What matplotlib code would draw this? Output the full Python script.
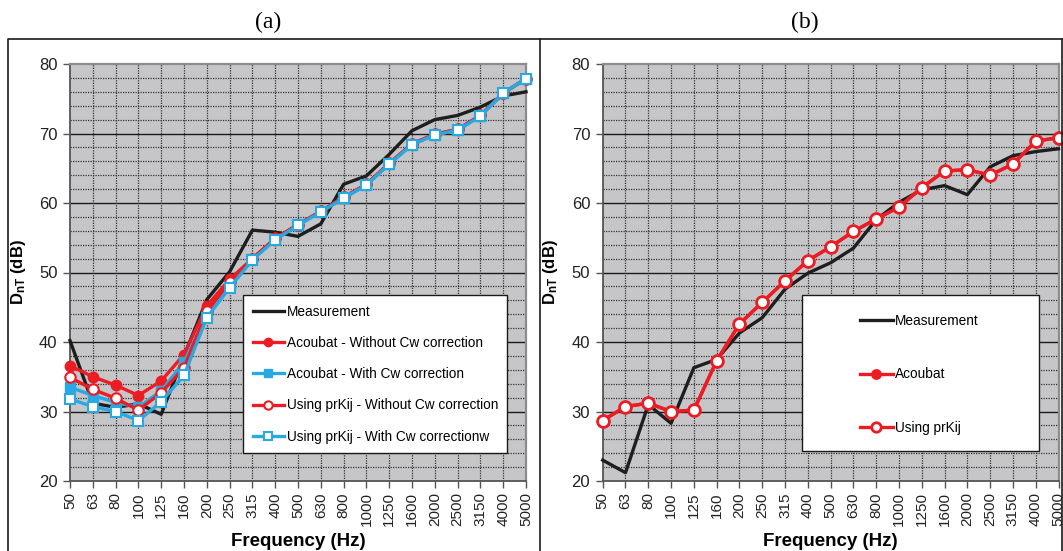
import matplotlib
matplotlib.use("Agg")
import matplotlib.pyplot as plt
from matplotlib.patches import Rectangle
from matplotlib.lines import Line2D
import numpy as np

plt.rcParams["font.family"] = ["Liberation Sans", "DejaVu Sans"]
plt.rcParams["mathtext.fontset"] = "custom"
plt.rcParams["mathtext.rm"] = "Liberation Sans"
plt.rcParams["mathtext.bf"] = "Liberation Sans:bold"

freqs = ["50", "63", "80", "100", "125", "160", "200", "250", "315", "400", "500",
         "630", "800", "1000", "1250", "1600", "2000", "2500", "3150", "4000", "5000"]

# panel (a)
meas_a = [40.2, 31.2, 30.6, 31.1, 29.6, 38.0, 46.1, 50.1, 56.1, 55.8, 55.2,
          57.0, 62.7, 63.9, 67.0, 70.4, 72.0, 72.6, 73.8, 75.4, 76.0]
acou_without_a = [36.6, 35.0, 33.8, 32.3, 34.4, 38.2, 45.2, 49.0, 52.0, 54.9, 56.9,
                  58.8, 60.8, 62.7, 65.7, 68.5, 69.9, 70.6, 72.6, 75.8, 77.9]
acou_with_a = [33.5, 32.3, 31.3, 30.6, 33.0, 37.1, 44.0, 48.2, 51.9, 54.8, 56.8,
               58.8, 60.7, 62.6, 65.6, 68.4, 69.8, 70.5, 72.5, 75.8, 77.9]
prkij_without_a = [34.9, 33.2, 31.9, 30.2, 32.7, 36.3, 44.4, 48.6, 52.0, 54.9, 56.9,
                   58.8, 60.8, 62.7, 65.7, 68.5, 69.9, 70.6, 72.6, 75.8, 77.9]
prkij_with_a = [31.8, 30.7, 30.0, 28.7, 31.4, 35.2, 43.5, 47.8, 51.8, 54.7, 56.8,
                58.7, 60.7, 62.6, 65.6, 68.4, 69.8, 70.5, 72.5, 75.8, 77.9]

# panel (b)
meas_b = [23.0, 21.2, 31.0, 28.3, 36.3, 37.5, 41.3, 43.5, 47.6, 49.9, 51.4,
          53.5, 57.6, 60.1, 61.9, 62.5, 61.2, 65.2, 66.8, 67.4, 67.8]
acou_b = [28.7, 30.7, 31.2, 30.0, 30.2, 37.3, 42.6, 45.7, 48.8, 51.7, 53.7,
          55.9, 57.7, 59.4, 62.2, 64.6, 64.8, 64.0, 65.6, 68.9, 69.4]
prkij_b = [28.7, 30.7, 31.2, 30.0, 30.2, 37.3, 42.6, 45.7, 48.8, 51.7, 53.7,
           55.9, 57.7, 59.4, 62.2, 64.6, 64.8, 64.0, 65.6, 68.9, 69.4]

RED = "#ec1c24"
BLUE = "#29a9e1"
BLACK = "#1e1e1e"
W, H = 1063, 551

fig = plt.figure(figsize=(W / 100, H / 100), dpi=100)


def px_axes(x0, x1, y0, y1):
    return fig.add_axes([x0 / W, 1 - y1 / H, (x1 - x0) / W, (y1 - y0) / H])


def style_axes(ax):
    x = np.arange(len(freqs))
    ax.set_facecolor("#c6c6c8")
    ax.set_xlim(0, len(freqs) - 1)
    ax.set_ylim(20, 80)
    ax.set_yticks(np.arange(20, 81, 10))
    ax.set_yticks(np.arange(20, 81, 2), minor=True)
    ax.set_xticks(x)
    ax.set_xticklabels(freqs, rotation=90, fontsize=11, color="#222222")
    ax.tick_params(axis="y", which="major", labelsize=12, length=5, width=1, colors="#555555",
                   labelcolor="#222222", pad=4)
    ax.tick_params(axis="y", which="minor", length=0)
    ax.tick_params(axis="x", length=5, width=1, colors="#555555", labelcolor="#222222", pad=3)
    for v in np.arange(22, 80, 2):
        if v % 10 == 0:
            ax.axhline(v, color="#1a1a1a", lw=1.0, zorder=1)
        else:
            ax.axhline(v, color="#333333", lw=0.9, ls=(0, (1, 1)), zorder=1)
    for i in x[1:-1]:
        ax.axvline(i, color="#333333", lw=0.9, ls=(0, (1, 1)), zorder=1)
    for s in ["left", "bottom"]:
        ax.spines[s].set_color("#555555")
        ax.spines[s].set_linewidth(1.3)
    for s in ["top", "right"]:
        ax.spines[s].set_color("#8c8c8c")
        ax.spines[s].set_linewidth(1.6)
    ax.set_xlabel("Frequency (Hz)", fontsize=13.5, fontweight="bold", labelpad=5)
    ax.set_ylabel(r"$\mathbf{D_{nT}}$ (dB)", fontsize=12, fontweight="bold", labelpad=8)
    return x


# ---- panel (a) ----
ax1 = px_axes(70, 526, 64, 481)
x = style_axes(ax1)
lk = dict(lw=2.4, clip_on=False, zorder=3)
ax1.plot(x, meas_a, color=BLACK, label="Measurement", **lk)
ax1.plot(x, acou_without_a, color=RED, marker="o", ms=7.5, mfc=RED, mec=RED,
         label="Acoubat - Without Cw correction", **lk)
ax1.plot(x, acou_with_a, color=BLUE, marker="s", ms=7.5, mfc=BLUE, mec=BLUE,
         label="Acoubat - With Cw correction", **lk)
ax1.plot(x, prkij_without_a, color=RED, marker="o", ms=7.5, mfc="white", mec=RED, mew=1.5,
         label="Using prKij - Without Cw correction", **lk)
ax1.plot(x, prkij_with_a, color=BLUE, marker="s", ms=7.5, mfc="white", mec=BLUE, mew=1.5,
         label="Using prKij - With Cw correctionw", **lk)
leg = ax1.legend(loc="upper left", bbox_to_anchor=((243 - 70) / 456, (481 - 295) / 417),
                 fontsize=9.8, frameon=True, fancybox=False, edgecolor="#1a1a1a",
                 framealpha=1, labelspacing=1.27, handlelength=2.3, handletextpad=0.2,
                 borderpad=0.7, borderaxespad=0, markerscale=0.8)
leg.get_frame().set_linewidth(1.0)

# ---- panel (b) ----
ax2 = px_axes(602.7, 1058.5, 64, 481)
x = style_axes(ax2)
ax2.plot(x, meas_b, color=BLACK, label="Measurement", **lk)
ax2.plot(x, acou_b, color=RED, marker="o", ms=8.5, mfc=RED, mec=RED,
         label="Acoubat", **lk)
ax2.plot(x, prkij_b, color=RED, marker="o", ms=8.5, mfc="white", mec=RED, mew=2,
         label="Using prKij", **lk)
box = Rectangle(((802 - 602.7) / 456, (481 - 451) / 417), (1039 - 802) / 456, (451 - 295) / 417,
                transform=ax2.transAxes, facecolor="white", edgecolor="#1a1a1a", lw=1.0,
                zorder=4.5)
ax2.add_patch(box)
leg2 = ax2.legend(loc="upper left", bbox_to_anchor=((860 - 602.7) / 456, (481 - 314) / 417),
                  fontsize=9.8, frameon=False, labelspacing=2.9, handlelength=2.4,
                  handletextpad=0.2, borderpad=0, borderaxespad=0, markerscale=0.8)
leg2.set_zorder(5)

# panel borders and titles
fig.add_artist(Line2D([8 / W, 8 / W, 540 / W], [0, 1 - 39 / H, 1 - 39 / H],
                      transform=fig.transFigure, color="#1a1a1a", lw=1.2))
fig.add_artist(Line2D([540 / W, 540 / W, 1062 / W], [0, 1 - 39 / H, 1 - 39 / H],
                      transform=fig.transFigure, color="#1a1a1a", lw=1.2))
fig.add_artist(Line2D([1062 / W, 1062 / W], [0, 1 - 39 / H],
                      transform=fig.transFigure, color="#1a1a1a", lw=1.2))
fig.text(268 / W, 1 - 22 / H, "(a)", ha="center", va="center", fontsize=17,
         family="Liberation Serif")
fig.text(805 / W, 1 - 22 / H, "(b)", ha="center", va="center", fontsize=17,
         family="Liberation Serif")

fig.savefig("out.png", dpi=100)
